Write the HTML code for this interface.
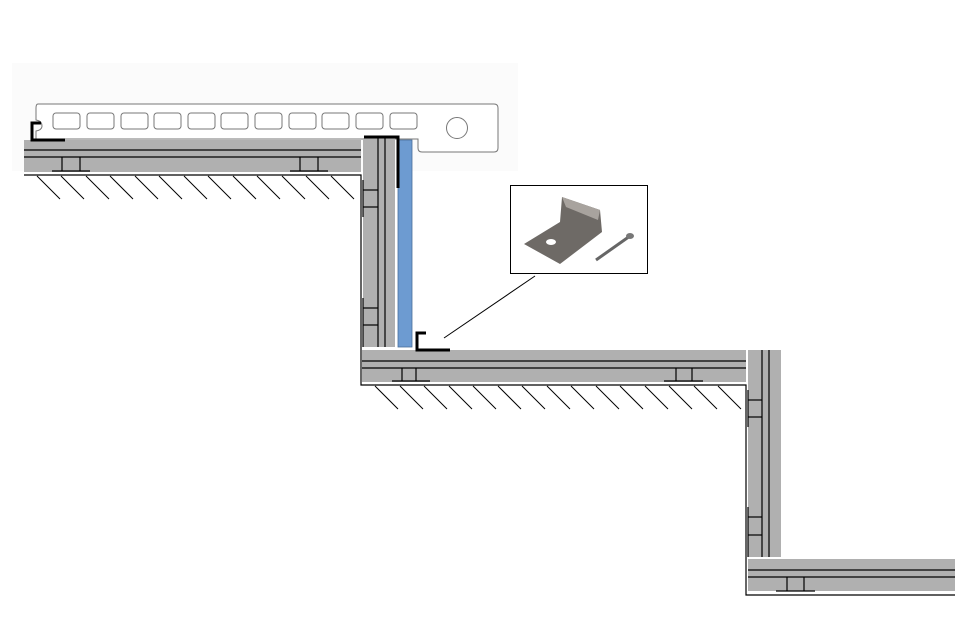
<!DOCTYPE html>
<html><head><meta charset="utf-8"><style>html,body{margin:0;padding:0;background:#fff}svg{display:block}</style></head>
<body>
<svg width="976" height="622" viewBox="0 0 976 622" xmlns="http://www.w3.org/2000/svg">
<rect x="12" y="63" width="506" height="108" fill="#fbfbfb"/>
<!-- plank profile -->
<path d="M38 104 H494 Q498 104 498 108 V148 Q498 152 494 152 H422 Q418 152 418 148 V139 H36 V131 Q42 130 42 126 Q42 121 36 120 V108 Q36 104 38 104 Z" fill="#fff" stroke="#777" stroke-width="1"/>
<g fill="#fff" stroke="#777" stroke-width="1">
<rect x="53" y="113" width="27" height="16" rx="3"/><rect x="87" y="113" width="27" height="16" rx="3"/><rect x="121" y="113" width="27" height="16" rx="3"/><rect x="154" y="113" width="27" height="16" rx="3"/><rect x="188" y="113" width="27" height="16" rx="3"/><rect x="221" y="113" width="27" height="16" rx="3"/><rect x="255" y="113" width="27" height="16" rx="3"/><rect x="289" y="113" width="27" height="16" rx="3"/><rect x="322" y="113" width="27" height="16" rx="3"/><rect x="356" y="113" width="27" height="16" rx="3"/><rect x="390" y="113" width="27" height="16" rx="3"/>
<circle cx="457" cy="128" r="10.5"/>
</g>
<!-- top tread -->
<rect x="24" y="140" width="337" height="32" fill="#b0b0b0"/>
<g stroke="#000" stroke-width="1.2" fill="none">
<line x1="24" y1="150" x2="361" y2="150"/><line x1="24" y1="157" x2="361" y2="157"/>
<line x1="62" y1="157" x2="62" y2="171"/><line x1="80" y1="157" x2="80" y2="171"/><line x1="52" y1="171" x2="90" y2="171"/>
<line x1="300" y1="157" x2="300" y2="171"/><line x1="318" y1="157" x2="318" y2="171"/><line x1="290" y1="171" x2="328" y2="171"/>
<polyline points="24,175 361,175 361,385 746,385 746,595 955,595"/>
</g>
<g stroke="#000" stroke-width="1">
<line x1="37" y1="176" x2="60" y2="199"/><line x1="61" y1="176" x2="84" y2="199"/><line x1="86" y1="176" x2="109" y2="199"/><line x1="110" y1="176" x2="133" y2="199"/><line x1="135" y1="176" x2="158" y2="199"/><line x1="159" y1="176" x2="182" y2="199"/><line x1="184" y1="176" x2="207" y2="199"/><line x1="208" y1="176" x2="231" y2="199"/><line x1="233" y1="176" x2="256" y2="199"/><line x1="257" y1="176" x2="280" y2="199"/><line x1="282" y1="176" x2="305" y2="199"/><line x1="306" y1="176" x2="329" y2="199"/><line x1="331" y1="176" x2="354" y2="199"/>
<line x1="375" y1="386" x2="398" y2="409"/><line x1="400" y1="386" x2="423" y2="409"/><line x1="424" y1="386" x2="447" y2="409"/><line x1="449" y1="386" x2="472" y2="409"/><line x1="473" y1="386" x2="496" y2="409"/><line x1="498" y1="386" x2="521" y2="409"/><line x1="522" y1="386" x2="545" y2="409"/><line x1="547" y1="386" x2="570" y2="409"/><line x1="571" y1="386" x2="594" y2="409"/><line x1="596" y1="386" x2="619" y2="409"/><line x1="620" y1="386" x2="643" y2="409"/><line x1="645" y1="386" x2="668" y2="409"/><line x1="669" y1="386" x2="692" y2="409"/><line x1="694" y1="386" x2="717" y2="409"/><line x1="718" y1="386" x2="741" y2="409"/>
</g>
<!-- riser 1 -->
<rect x="363" y="138" width="32" height="209" fill="#b0b0b0"/>
<rect x="398" y="140" width="14" height="207" fill="#6d9bd1" stroke="#4a6f9a" stroke-width="0.8"/>
<g stroke="#000" stroke-width="1.2">
<line x1="378" y1="138" x2="378" y2="347"/><line x1="385" y1="138" x2="385" y2="347"/>
<line x1="363" y1="190" x2="378" y2="190"/><line x1="363" y1="207" x2="378" y2="207"/><line x1="363" y1="180" x2="363" y2="217"/>
<line x1="363" y1="308" x2="378" y2="308"/><line x1="363" y1="325" x2="378" y2="325"/><line x1="363" y1="298" x2="363" y2="347"/>
</g>
<!-- middle tread -->
<rect x="362" y="350" width="384" height="32" fill="#b0b0b0"/>
<g stroke="#000" stroke-width="1.2">
<line x1="362" y1="361" x2="746" y2="361"/><line x1="362" y1="368" x2="746" y2="368"/>
<line x1="402" y1="368" x2="402" y2="381"/><line x1="416" y1="368" x2="416" y2="381"/><line x1="392" y1="381" x2="430" y2="381"/>
<line x1="676" y1="368" x2="676" y2="381"/><line x1="692" y1="368" x2="692" y2="381"/><line x1="664" y1="381" x2="703" y2="381"/>
</g>
<!-- riser 2 -->
<rect x="748" y="350" width="33" height="207" fill="#b0b0b0"/>
<g stroke="#000" stroke-width="1.2">
<line x1="762" y1="350" x2="762" y2="557"/><line x1="769" y1="350" x2="769" y2="557"/>
<line x1="748" y1="400" x2="762" y2="400"/><line x1="748" y1="417" x2="762" y2="417"/><line x1="748" y1="390" x2="748" y2="427"/>
<line x1="748" y1="517" x2="762" y2="517"/><line x1="748" y1="535" x2="762" y2="535"/><line x1="748" y1="507" x2="748" y2="557"/>
</g>
<!-- bottom tread -->
<rect x="748" y="559" width="207" height="32" fill="#b0b0b0"/>
<g stroke="#000" stroke-width="1.2">
<line x1="748" y1="570" x2="955" y2="570"/><line x1="748" y1="577" x2="955" y2="577"/>
<line x1="787" y1="577" x2="787" y2="591"/><line x1="804" y1="577" x2="804" y2="591"/><line x1="776" y1="591" x2="815" y2="591"/>
</g>
<!-- clips -->
<g stroke="#000" stroke-width="3" fill="none">
<polyline points="41,123 32,123 32,140 65,140"/>
<polyline points="364,137 398,137 398,188"/>
<polyline points="426,333 417,333 417,350 450,350"/>
</g>
<line x1="444" y1="338" x2="535" y2="276" stroke="#000" stroke-width="1"/>
<!-- clip picture box -->
<rect x="510.5" y="185.5" width="137" height="88" fill="#fff" stroke="#000" stroke-width="1"/>
<path d="M562 197 L600 210 L602 232 L560 264 L524 244 L560 222 Z" fill="#6e6a66"/>
<path d="M562 197 L600 210 L598 220 L566 207 Z" fill="#a8a39e"/>
<ellipse cx="551" cy="242" rx="5" ry="3" fill="#fff"/>
<line x1="596" y1="260" x2="630" y2="236" stroke="#666" stroke-width="3"/>
<ellipse cx="630" cy="236" rx="4" ry="3" fill="#777"/>
</svg>
</body></html>
